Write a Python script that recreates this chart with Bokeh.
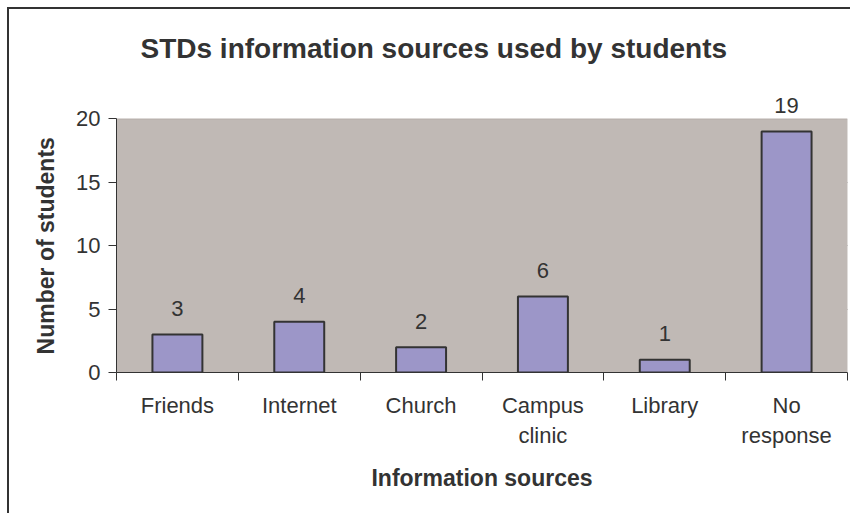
from bokeh.plotting import figure
from bokeh.models import Range1d, FixedTicker, ColumnDataSource, Label, Title, BoxAnnotation
from bokeh.embed import file_html
from bokeh.resources import INLINE

categories = ["Friends", "Internet", "Church", "Campus\nclinic", "Library", "No\nresponse"]
students = [3, 4, 2, 6, 1, 19]
y_ticks = [0, 5, 10, 15, 20]
y_max = 20

FONT = "Liberation Sans"
TXT = "#333333"

n = len(categories)
centers = [i + 0.5 for i in range(n)]
bounds = list(range(n + 1))

src = ColumnDataSource(dict(x=centers, top=students))

# y range extends a little above 20 so that the "19" label above the plot area is not clipped
p = figure(width=850, height=513, output_backend="svg", toolbar_location=None,
           x_range=Range1d(0, n), y_range=Range1d(0, 22),
           min_border_left=116, min_border_right=3, min_border_top=93, min_border_bottom=141)

p.title = Title(text="STDs information sources used by students", align="left", offset=24,
                standoff=60, text_font=FONT, text_font_size="28px",
                text_font_style="bold", text_color=TXT)

p.background_fill_alpha = 0
p.border_fill_alpha = 0
p.outline_line_color = None
p.styles = {
    "background-color": "white",
    "background-image": "linear-gradient(#333333, #333333), linear-gradient(#333333, #333333)",
    "background-size": "2px 100%, 100% 2px",
    "background-position": "7px 7px, 7px 7px",
    "background-repeat": "no-repeat",
}

# plot area (0..20)
p.add_layout(BoxAnnotation(left=0, right=n, bottom=0, top=y_max,
                           fill_color="#C0B9B5", fill_alpha=1,
                           line_color="#8E8682", line_width=1, level="underlay"))

p.vbar(x="x", top="top", width=0.41, source=src, fill_color="#9C96C8",
       line_color="#333333", line_width=2)

for xc, v in zip(centers, students):
    p.add_layout(Label(x=xc, y=v, text=str(v), y_offset=26,
                       text_align="center", text_baseline="alphabetic",
                       text_font=FONT, text_font_size="22px", text_color=TXT))

# y axis
p.yaxis.ticker = FixedTicker(ticks=y_ticks)
p.yaxis.bounds = (0, y_max)
p.yaxis.major_tick_out = 8
p.yaxis.major_tick_in = 0
p.yaxis.minor_tick_out = 0
p.yaxis.minor_tick_in = 0
p.yaxis.axis_line_color = "#333333"
p.yaxis.major_tick_line_color = "#333333"
p.yaxis.major_label_standoff = 8
p.yaxis.major_label_text_font = FONT
p.yaxis.major_label_text_font_size = "22px"
p.yaxis.major_label_text_color = TXT
# trailing no-break spaces shift the centred label down to the middle of the 0..20 area
p.yaxis.axis_label = "Number of students" + "\u00a0" * 4
p.yaxis.axis_label_text_font = FONT
p.yaxis.axis_label_text_font_size = "23px"
p.yaxis.axis_label_text_font_style = "bold"
p.yaxis.axis_label_text_color = TXT
p.yaxis.axis_label_standoff = 14

# x axis
p.xaxis.ticker = FixedTicker(ticks=centers, minor_ticks=bounds)
p.xaxis.major_label_overrides = {c: lab for c, lab in zip(centers, categories)}
p.xaxis.major_tick_out = 0
p.xaxis.major_tick_in = 0
p.xaxis.minor_tick_out = 8
p.xaxis.minor_tick_in = 0
p.xaxis.minor_tick_line_color = "#333333"
p.xaxis.axis_line_color = "#333333"
p.xaxis.major_label_standoff = 12
p.xaxis.major_label_text_font = FONT
p.xaxis.major_label_text_font_size = "22px"
p.xaxis.major_label_text_color = TXT
p.xaxis.axis_label = "Information sources"
p.xaxis.axis_label_text_font = FONT
p.xaxis.axis_label_text_font_size = "23px"
p.xaxis.axis_label_text_font_style = "bold"
p.xaxis.axis_label_text_color = TXT
p.xaxis.axis_label_standoff = 14

p.xgrid.visible = False
p.ygrid.ticker = FixedTicker(ticks=[5, 10, 15])
p.ygrid.bounds = (0, n)
p.ygrid.grid_line_color = "#555555"
p.ygrid.grid_line_width = 1

open("out.html", "w").write(file_html(p, INLINE))
